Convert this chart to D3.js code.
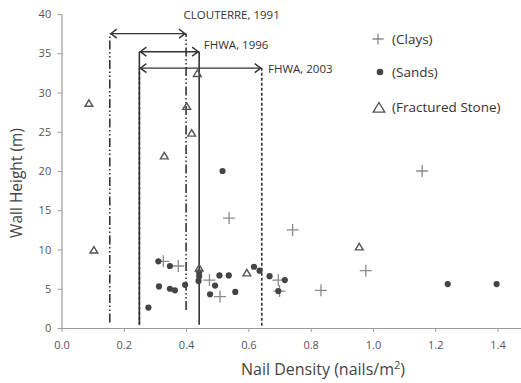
<!DOCTYPE html>
<html><head><meta charset="utf-8">
<script src="https://cdn.jsdelivr.net/npm/d3@7/dist/d3.min.js"></script>
<style>body{margin:0;background:#fff}svg{display:block}text{font-family:"Open Sans",sans-serif}</style>
</head><body><svg id="c" width="521" height="383"></svg>
<script>
// Data (nail density, wall height)
const claysX = [0.327,0.375,0.475,0.509,0.538,0.742,0.696,0.700,0.833,0.977,1.158];
const claysY = [8.5,7.9,6.1,4.0,14.0,12.5,6.1,4.7,4.8,7.3,20.0];
const sandsX = [0.517,0.311,0.348,0.313,0.348,0.364,0.397,0.279,0.442,0.440,0.442,0.477,0.493,0.507,0.537,0.558,0.618,0.636,0.668,0.717,0.696,1.240,1.397];
const sandsY = [20.0,8.5,7.9,5.3,5.0,4.8,5.5,2.6,7.1,6.0,6.6,4.3,5.4,6.7,6.7,4.6,7.8,7.3,6.6,6.1,4.7,5.6,5.6];
const stoneX = [0.088,0.436,0.402,0.418,0.330,0.104,0.442,0.595,0.956];
const stoneY = [28.6,32.4,28.2,24.8,21.9,9.9,7.6,7.0,10.3];
// Guideline ranges
const guideNames = ["CLOUTERRE, 1991","FHWA, 1996","FHWA, 2003"];
const guideMin = [0.155,0.25,0.25];
const guideMax = [0.40,0.442,0.643];
const guideTop = [37.5,35.2,33.1];
const guideBottomL = [0.7,0.4,0.4];
const guideBottomR = [2.3,0.4,0.3];
const xTicks = [0,0.2,0.4,0.6,0.8,1.0,1.2,1.4];
const yTicks = [0,5,10,15,20,25,30,35,40];
const legendLabels = ["(Clays)","(Sands)","(Fractured Stone)"];

const svg = d3.select("#c");
const x = d3.scaleLinear().domain([0,1.5]).range([61.5,528.7]);
const y = d3.scaleLinear().domain([0,40]).range([328,14]);
const axisCol = "#9a9a9a", textCol = "#555";

// axes
const gx = svg.append("g").attr("transform","translate(0,328)")
  .call(d3.axisBottom(x).tickValues(xTicks).tickFormat(d3.format(".1f")).tickSize(4).tickSizeOuter(0));
const gy = svg.append("g").attr("transform","translate(61.5,0)")
  .call(d3.axisLeft(y).tickValues(yTicks).tickSize(4).tickSizeOuter(0));
[gx,gy].forEach(g=>{
  g.select(".domain").attr("stroke",axisCol).attr("stroke-width",1.2);
  g.selectAll(".tick line").attr("stroke",axisCol);
  g.selectAll(".tick text").attr("fill",textCol).attr("font-size",11).attr("font-family","Open Sans");
});
gx.selectAll(".tick text").attr("dy","1.25em");
gy.selectAll(".tick text").attr("dx","-0.3em");

// axis titles
const xt = svg.append("text").attr("x",323).attr("y",375).attr("text-anchor","middle")
  .attr("font-size",16).attr("fill","#444");
xt.append("tspan").text("Nail Density (nails/m");
xt.append("tspan").attr("dy",-6).attr("font-size",11).text("2");
xt.append("tspan").attr("dy",6).text(")");
svg.append("text").attr("transform","translate(22,183) rotate(-90)").attr("text-anchor","middle")
  .attr("font-size",15.5).attr("fill","#444").text("Wall Height (m)");

// guideline lines
const lineCol = "#333";
const styles = [
  {dash:"9,2.5,1.5,2.5,1.5,2.5", w:1.6},
  {dash:null, w:1.6},
  {dash:"3,2", w:1.6}
];
const g = svg.append("g");
guideNames.forEach((n,i)=>{
  const st = styles[i];
  [[guideMin[i],guideBottomL[i]],[guideMax[i],guideBottomR[i]]].forEach(([xv,yb])=>{
    g.append("line").attr("x1",x(xv)).attr("x2",x(xv)).attr("y1",y(yb)).attr("y2",y(guideTop[i]))
      .attr("stroke",lineCol).attr("stroke-width",st.w).attr("stroke-dasharray",st.dash);
  });
  const yy = y(guideTop[i]), x1 = x(guideMin[i]), x2 = x(guideMax[i]);
  g.append("line").attr("x1",x1).attr("x2",x2).attr("y1",yy).attr("y2",yy).attr("stroke",lineCol).attr("stroke-width",1.4);
  g.append("path").attr("d",`M${x1+7},${yy-4.5}L${x1+1},${yy}L${x1+7},${yy+4.5}`).attr("fill","none").attr("stroke",lineCol).attr("stroke-width",1.4);
  g.append("path").attr("d",`M${x2-7},${yy-4.5}L${x2-1},${yy}L${x2-7},${yy+4.5}`).attr("fill","none").attr("stroke",lineCol).attr("stroke-width",1.4);
});
// labels
const labPos = [[guideMax[0]-0.008, 37.5+2.4],[guideMax[1]+0.015,35.2+0.9],[guideMax[2]+0.02,33.1-0.1]];
guideNames.forEach((n,i)=>{
  svg.append("text").attr("x",x(labPos[i][0])).attr("y",y(labPos[i][1])).attr("dy","0.35em")
    .attr("font-size",11.5).attr("fill","#333").text(n);
});

// markers
const cross = (sel,cx,cy,s)=>sel.append("path").attr("d",`M${cx-s},${cy}H${cx+s}M${cx},${cy-s}V${cy+s}`)
  .attr("stroke","#8a8a8a").attr("stroke-width",1.3).attr("fill","none");
const tri = (sel,cx,cy,s)=>sel.append("path").attr("d",`M${cx},${cy-s}L${cx+s*1.05},${cy+s*0.75}L${cx-s*1.05},${cy+s*0.75}Z`)
  .attr("stroke","#555").attr("stroke-width",1.4).attr("fill","none");
const m = svg.append("g");
claysX.forEach((v,i)=>cross(m,x(v),y(claysY[i]),6));
sandsX.forEach((v,i)=>m.append("circle").attr("cx",x(v)).attr("cy",y(sandsY[i])).attr("r",3.1).attr("fill","#444"));
stoneX.forEach((v,i)=>tri(m,x(v),y(stoneY[i]),3.7));

// legend
const lg = svg.append("g");
const ly = [39,72,107];
cross(lg,378,ly[0],5.5);
lg.append("circle").attr("cx",380).attr("cy",ly[1]).attr("r",3.3).attr("fill","#444");
tri(lg,379,ly[2]+1,5.5);
legendLabels.forEach((t,i)=>lg.append("text").attr("x",392).attr("y",ly[i]).attr("dy","0.35em")
  .attr("font-size",13.5).attr("fill","#333").text(t));
</script></body></html>
